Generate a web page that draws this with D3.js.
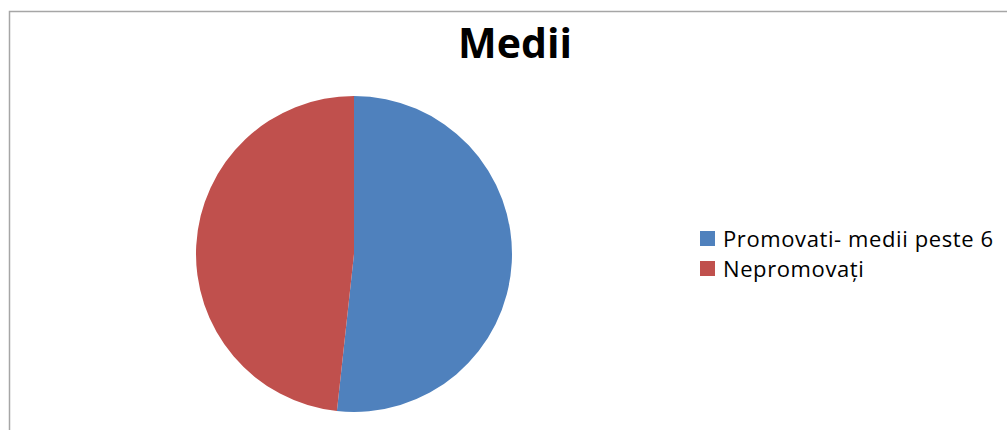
<!DOCTYPE html>
<html><head><meta charset="utf-8">
<script src="https://cdn.jsdelivr.net/npm/d3@7"></script>
<style>html,body{margin:0;padding:0;background:#fff;}svg{display:block;}</style>
</head><body>
<svg id="c" width="1007" height="430"></svg>
<script>
const categories = ["Promovati- medii peste 6", "Nepromovați"];
const values = [15, 14];
const colors = ["#4f81bd", "#c0504d"];
const title = "Medii";

const svg = d3.select("#c");
const font = "'Open Sans', 'Noto Sans', sans-serif";
svg.append("rect").attr("x", 9.5).attr("y", 11.5).attr("width", 1100).attr("height", 500)
  .attr("fill", "#fff").attr("stroke", "#a6a6a6").attr("stroke-width", 1.5);

svg.append("text").attr("x", 515).attr("y", 58).attr("text-anchor", "middle")
  .attr("font-family", font).attr("font-weight", "bold").attr("font-size", 41)
  .attr("fill", "#000").text(title);

const cx = 354, cy = 254, r = 158;
const pie = d3.pie().sort(null).value(d => d)(values);
const arc = d3.arc().innerRadius(0).outerRadius(r);
const g = svg.append("g").attr("transform", `translate(${cx},${cy})`);
g.selectAll("path").data(pie).join("path").attr("d", arc).attr("fill", (d, i) => colors[i]);

const leg = svg.append("g").attr("transform", "translate(700,231)");
const items = leg.selectAll("g").data(categories).join("g").attr("transform", (d, i) => `translate(0,${i * 30})`);
items.append("rect").attr("width", 15).attr("height", 15).attr("fill", (d, i) => colors[i]);
items.append("text").attr("x", 23).attr("y", 16).attr("font-family", font).attr("font-size", 22)
  .attr("letter-spacing", 0.6).attr("fill", "#000").text(d => d);
</script>
</body></html>
